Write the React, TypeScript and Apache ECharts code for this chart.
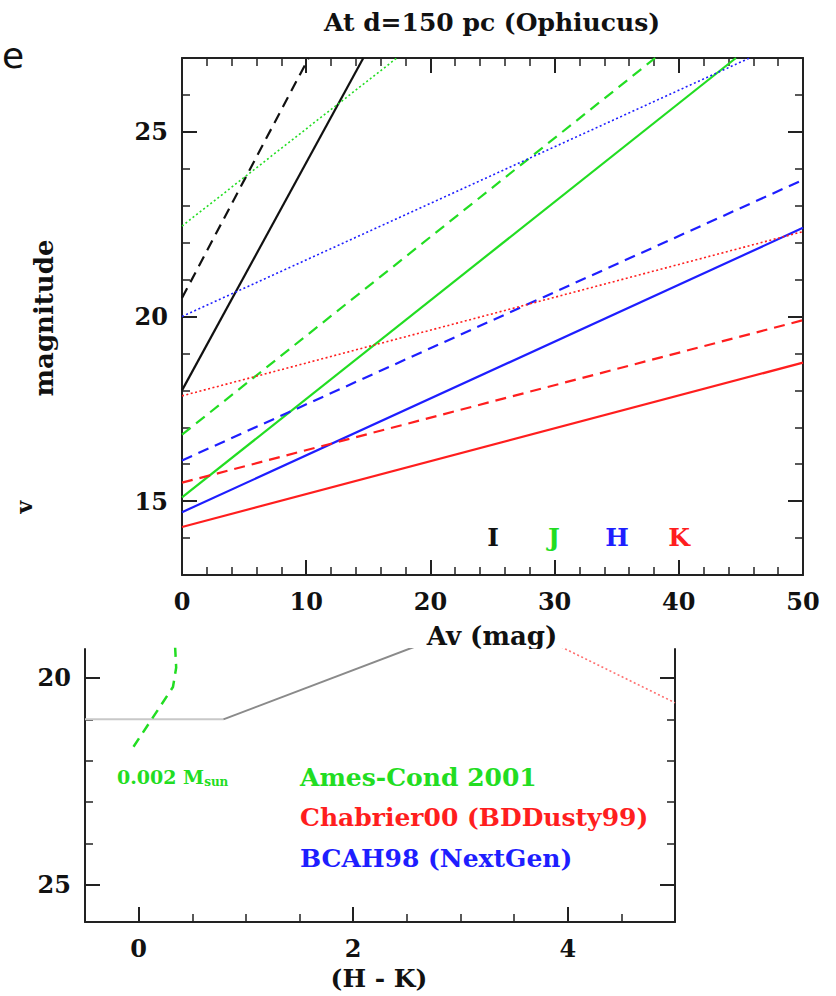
import { useEffect, useRef } from "react";
import * as echarts from "echarts";

// ---------- data ----------
// Top panel: magnitude vs Av, straight lines given by two points each [Av, mag]
const bandLabels = ["I", "J", "H", "K"];
const bandColors = ["#111111", "#22dd22", "#1e1eff", "#ff1e1e"];

const iSolid = [[0, 18.0], [14.6, 27.0]];
const iDashed = [[0, 20.5], [10.2, 27.0]];
const jSolid = [[0, 15.1], [44.6, 27.0]];
const jDashed = [[0, 16.8], [38.1, 27.0]];
const jDotted = [[0, 22.45], [17.3, 27.0]];
const hSolid = [[0, 14.7], [50, 22.4]];
const hDashed = [[0, 16.1], [50, 23.7]];
const hDotted = [[0, 20.0], [45.7, 27.0]];
const kSolid = [[0, 14.3], [50, 18.75]];
const kDashed = [[0, 15.5], [50, 19.9]];
const kDotted = [[0, 17.85], [50, 22.3]];

const topXTicks = [0, 10, 20, 30, 40, 50];
const topYMinor = [14, 15, 16, 17, 18, 19, 20, 21, 22, 23, 24, 25, 26];
const topYMajor = [15, 20, 25];

// Bottom panel: magnitude vs (H - K)
const grayFlat = [[-0.5, 21.0], [0.79, 21.0]];
const grayRise = [[0.79, 21.0], [2.62, 19.2]];
const greenTrack = [[0.34, 19.25], [0.35, 19.75], [0.32, 20.22], [-0.07, 21.75]];
const redTrack = [[3.9, 19.2], [5.0, 20.6]];

const botXMinor = [-0.5, 0.5, 1, 1.5, 2.5, 3, 3.5, 4.5, 5];
const botXMajor = [0, 2, 4];
const botYMinor = [20, 21, 22, 23, 24, 25];
const botYMajor = [20, 25];

const legendNames = ["Ames-Cond 2001", "Chabrier00 (BDDusty99)", "BCAH98 (NextGen)"];
const legendColors = ["#22dd22", "#ff1e1e", "#1e1eff"];

// ---------- styling ----------
const FONT = "DejaVu Serif";
const AX = "#222222";

const axisLine = { show: true, onZero: false, lineStyle: { color: AX, width: 2 } };
const noLine = { show: false, onZero: false };
const label = (show: boolean, extra: any = {}) => ({
  show,
  color: "#111",
  fontFamily: FONT,
  fontWeight: "bold",
  fontSize: 24,
  ...extra,
});

export default function App() {
  const ref = useRef<HTMLDivElement>(null);

  useEffect(() => {
    if (!ref.current) return;
    const chart = echarts.init(ref.current, undefined, { renderer: "svg" });

    const line = (data: number[][], color: string, kind: string, gi = 0, z = 2) => ({
      type: "line",
      data,
      xAxisIndex: gi === 0 ? 0 : 2,
      yAxisIndex: gi === 0 ? 0 : 4,
      showSymbol: false,
      symbol: "none",
      clip: true,
      z,
      silent: true,
      lineStyle: {
        color,
        width: kind === "dotted" ? 1.6 : 2.2,
        type: kind === "solid" ? "solid" : kind === "dashed" ? [11, 7] : [2, 2.5],
      },
    });

    const topX = (pos: "bottom" | "top", showLabel: boolean) => ({
      type: "value",
      gridIndex: 0,
      position: pos,
      min: 0,
      max: 50,
      interval: 10,
      axisLine,
      axisTick: { show: true, inside: true, length: 15, lineStyle: { color: AX, width: 2 } },
      minorTick: { show: true, splitNumber: 5, length: 8, lineStyle: { color: AX, width: 1.5 } },
      axisLabel: label(showLabel, { margin: 14, customValues: topXTicks }),
      splitLine: { show: false },
      minorSplitLine: { show: false },
    });

    const valAxis = (
      gridIndex: number,
      pos: string,
      min: number,
      max: number,
      ticks: number[],
      len: number,
      showLine: boolean,
      labels: number[] | null,
      inverse = false,
      z = 0
    ) => ({
      type: "value",
      gridIndex,
      position: pos,
      min,
      max,
      inverse,
      z,
      axisLine: showLine ? axisLine : noLine,
      axisTick: {
        show: true,
        inside: true,
        length: len,
        customValues: ticks,
        lineStyle: { color: AX, width: len > 10 ? 2 : 1.5 },
      },
      axisLabel: labels ? label(true, { margin: 14, customValues: labels }) : { show: false },
      splitLine: { show: false },
    });

    const option: any = {
      animation: false,
      backgroundColor: "#ffffff",
      grid: [
        { left: 182, top: 58, width: 621, height: 517 },
        { left: 85, top: 649, width: 590, height: 273 },
      ],
      xAxis: [
        topX("bottom", true),
        topX("top", false),
        valAxis(1, "bottom", -0.5, 5, botXMinor, 8, true, null, false, 5),
        valAxis(1, "bottom", -0.5, 5, botXMajor, 15, false, botXMajor, false, 5),
      ],
      yAxis: [
        valAxis(0, "left", 13, 27, topYMinor, 8, true, null),
        valAxis(0, "left", 13, 27, topYMajor, 15, false, topYMajor),
        valAxis(0, "right", 13, 27, topYMinor, 8, true, null),
        valAxis(0, "right", 13, 27, topYMajor, 15, false, null),
        valAxis(1, "left", 19.3, 25.9, botYMinor, 8, true, null, true, 5),
        valAxis(1, "left", 19.3, 25.9, botYMajor, 15, false, botYMajor, true, 5),
        valAxis(1, "right", 19.3, 25.9, botYMinor, 8, true, null, true, 5),
        valAxis(1, "right", 19.3, 25.9, botYMajor, 15, false, null, true, 5),
      ],
      series: [
        line(iSolid, bandColors[0], "solid"),
        line(iDashed, bandColors[0], "dashed"),
        line(jSolid, bandColors[1], "solid"),
        line(jDashed, bandColors[1], "dashed"),
        line(jDotted, bandColors[1], "dotted"),
        line(hSolid, bandColors[2], "solid"),
        line(hDashed, bandColors[2], "dashed"),
        line(hDotted, bandColors[2], "dotted"),
        line(kSolid, bandColors[3], "solid"),
        line(kDashed, bandColors[3], "dashed"),
        line(kDotted, bandColors[3], "dotted"),
        { ...line(grayFlat, "#c8c8c8", "solid", 1, 6), lineStyle: { color: "#c8c8c8", width: 2 } },
        { ...line(grayRise, "#8a8a8a", "solid", 1, 6), lineStyle: { color: "#8a8a8a", width: 2 } },
        { ...line(greenTrack, "#22dd22", "dashed", 1, 6), lineStyle: { color: "#22dd22", width: 2.5, type: [10, 7] } },
        { ...line(redTrack, "#ff8080", "dotted", 1, 6), lineStyle: { color: "#ff7070", width: 1.6, type: [2, 2.5] } },
      ],
      graphic: {
        elements: [
          {
            type: "text",
            x: 492,
            y: 22,
            z: 10,
            style: {
              text: "At d=150 pc (Ophiucus)",
              fill: "#111",
              fontFamily: FONT,
              fontWeight: "bold",
              fontSize: 25,
              textAlign: "center",
              textVerticalAlign: "middle",
            },
          },
          {
            type: "text",
            x: 2,
            y: 55,
            z: 10,
            style: {
              text: "e",
              fill: "#111",
              fontFamily: "DejaVu Sans",
              fontSize: 36,
              textAlign: "left",
              textVerticalAlign: "middle",
            },
          },
          {
            type: "text",
            x: 44,
            y: 318,
            z: 10,
            rotation: Math.PI / 2,
            style: {
              text: "magnitude",
              fill: "#111",
              fontFamily: FONT,
              fontWeight: "bold",
              fontSize: 26,
              textAlign: "center",
              textVerticalAlign: "middle",
            },
          },
          {
            type: "text",
            x: 24,
            y: 507,
            z: 10,
            rotation: Math.PI / 2,
            style: {
              text: "v",
              fill: "#111",
              fontFamily: FONT,
              fontWeight: "bold",
              fontSize: 22,
              textAlign: "center",
              textVerticalAlign: "middle",
            },
          },
          ...bandLabels.map((b, i) => ({
            type: "text",
            x: [493, 554, 617, 679][i],
            y: 537,
            z: 10,
            style: {
              text: b,
              fill: bandColors[i],
              fontFamily: FONT,
              fontWeight: "bold",
              fontSize: 25,
              textAlign: "center",
              textVerticalAlign: "middle",
            },
          })),
          {
            type: "text",
            x: 492,
            y: 636,
            z: 0,
            style: {
              text: "Av (mag)",
              fill: "#111",
              fontFamily: FONT,
              fontWeight: "bold",
              fontSize: 26,
              textAlign: "center",
              textVerticalAlign: "middle",
            },
          },
          {
            type: "rect",
            z: 1,
            shape: { x: 0, y: 649, width: 836, height: 347 },
            style: { fill: "#ffffff" },
          },
          {
            type: "text",
            x: 117,
            y: 777,
            z: 10,
            style: {
              text: "{a|0.002 M}{b|sun}",
              fill: "#22dd22",
              textAlign: "left",
              textVerticalAlign: "middle",
              rich: {
                a: { fontFamily: FONT, fontWeight: "bold", fontSize: 19, fill: "#22dd22" },
                b: { fontFamily: FONT, fontWeight: "bold", fontSize: 12, fill: "#22dd22", padding: [10, 0, 0, 0] },
              },
            },
          },
          ...legendNames.map((t, i) => ({
            type: "text",
            x: 300,
            y: [777, 817, 858][i],
            z: 10,
            style: {
              text: t,
              fill: legendColors[i],
              fontFamily: FONT,
              fontWeight: "bold",
              fontSize: 25,
              textAlign: "left",
              textVerticalAlign: "middle",
            },
          })),
          {
            type: "text",
            x: 379,
            y: 978,
            z: 10,
            style: {
              text: "(H - K)",
              fill: "#111",
              fontFamily: FONT,
              fontWeight: "bold",
              fontSize: 25,
              textAlign: "center",
              textVerticalAlign: "middle",
            },
          },
        ],
      },
    };

    chart.setOption(option);
    return () => chart.dispose();
  }, []);

  return (
    <div
      ref={ref}
      style={{ position: "absolute", left: 0, top: 0, width: 836, height: 996, background: "#fff" }}
    />
  );
}
